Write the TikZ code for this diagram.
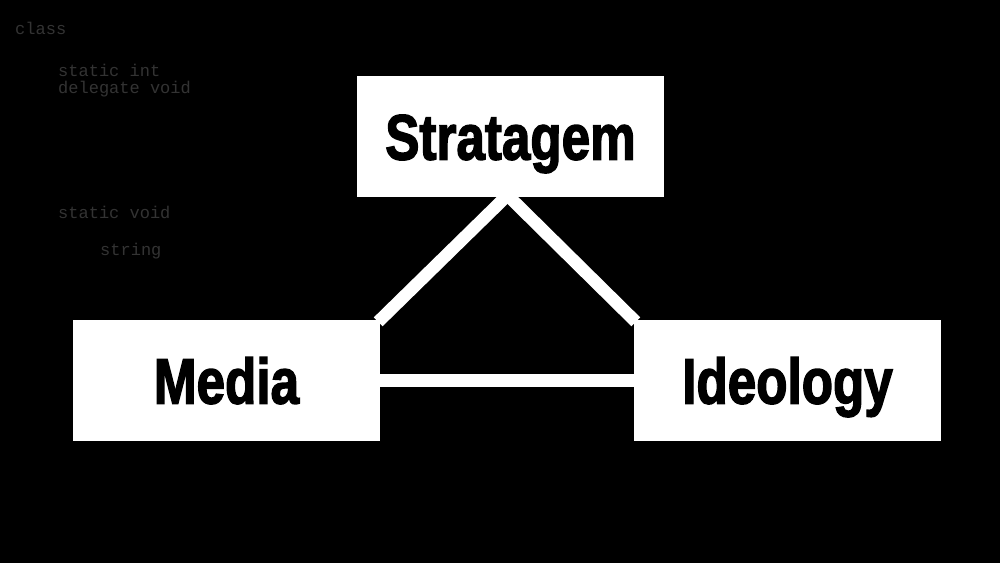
\documentclass[tikz,border=0pt]{standalone}
\usepackage{fontspec}
\setmainfont{Liberation Sans}
\usetikzlibrary{calc}
\newfontfamily\codefont{Liberation Mono}
\newfontfamily\impactfont{Liberation Sans}[BoldFeatures={FakeBold=2.5}]
\begin{document}
\begin{tikzpicture}[x=1pt,y=-1pt,
  box/.style={fill=white,draw=none,minimum width=307pt,minimum height=121pt,inner sep=0pt,
    text height=46pt,text depth=0pt,font=\impactfont\fontsize{64}{64}\selectfont\bfseries},
  link/.style={draw=white,line width=12.5pt},
  code/.style={anchor=west,inner sep=0pt,text=black!80!white,font=\codefont\fontsize{17}{17}\selectfont}]
\fill[black] (0,0) rectangle (1000,563);
\useasboundingbox (0,0) rectangle (1000,563);
% faint background code
\node[code] (c1) at (15,28) {class};
\node[code] (c2) at (58,70) {static int};
\node[code] (c3) at (58,89) {delegate void};
\node[code] (c4) at (58,212) {static void};
\node[code] (c5) at (100,251) {string};
% boxes
\node[box] (S) at (510.5,136.5) {\scalebox{0.8}[1]{Stratagem}};
\node[box] (M) at (226.5,380.5) {\scalebox{0.8}[1]{Media}};
\node[box] (I) at (787.5,380.5) {\scalebox{0.8}[1]{Ideology}};
% connectors
\coordinate (apex) at ($(S.south)+(-3,-2)$);
\draw[link] (apex) -- ($(M.north east)+(-2,2)$);
\draw[link] (apex) -- ($(I.north west)+(2,2)$);
\draw[link] (M.east) -- (I.west);
\end{tikzpicture}
\end{document}
